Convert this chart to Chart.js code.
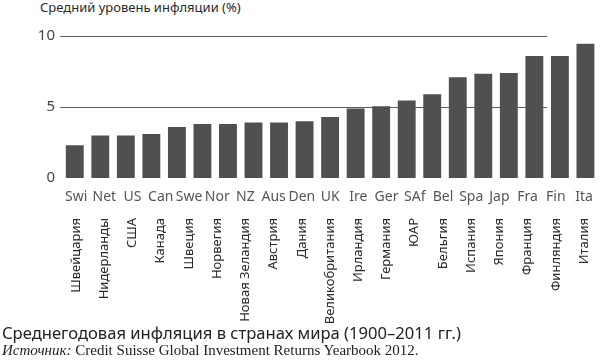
<!DOCTYPE html>
<html>
<head>
<meta charset="utf-8">
<script src="https://cdn.jsdelivr.net/npm/chart.js@4"></script>
<style>
    body { margin: 0; width: 610px; height: 364px; overflow: hidden; background: #fff; position: relative; }
    #wrap { position: absolute; left: 0; top: 0; width: 610px; height: 330px; }
    .ytitle { position: absolute; left: 40px; top: -2px; font: 13px "Noto Sans", sans-serif; color: #2a2a2a; }
    .caption { position: absolute; left: 2px; top: 321px; font: 16.6px "Noto Sans", sans-serif; color: #222; white-space: nowrap; }
    .source { position: absolute; left: 2px; top: 342px; font: 15px "Liberation Serif", serif; color: #222; white-space: nowrap; }
</style>
</head>
<body>
<div class="ytitle">Средний уровень инфляции (%)</div>
<div id="wrap"><canvas id="inflChart" width="610" height="330"></canvas></div>
<div class="caption">Среднегодовая инфляция в странах мира (1900–2011 гг.)</div>
<div class="source"><i>Источник:</i> Credit Suisse Global Investment Returns Yearbook 2012.</div>
<script>
// bars as they appear in the figure (21 of them)
const barKeys = ['1', '2', '3', '4', '5', '6', '7', '8', '9', '10', '11',
    '12', '13', '14', '15', '16', '17', '18', '19', '20', '21'];
const inflation = [2.3, 3.0, 3.0, 3.1, 3.6, 3.8, 3.8, 3.9, 3.9, 4.0, 4.3,
    4.9, 5.05, 5.45, 5.9, 7.1, 7.35, 7.4, 8.6, 8.6, 9.45];

// label rows under the chart (19 countries)
const shortLabels = ['Swi', 'Net', 'US', 'Can', 'Swe', 'Nor', 'NZ', 'Aus', 'Den', 'UK',
    'Ire', 'Ger', 'SAf', 'Bel', 'Spa', 'Jap', 'Fra', 'Fin', 'Ita'];
const ruLabels = ['Швейцария', 'Нидерланды', 'США', 'Канада', 'Швеция', 'Норвегия',
    'Новая Зеландия', 'Австрия', 'Дания', 'Великобритания', 'Ирландия', 'Германия',
    'ЮАР', 'Бельгия', 'Испания', 'Япония', 'Франция', 'Финляндия', 'Италия'];

const yTicks = [0, 5, 10];
const gridLevels = [5, 10];
const gridEndBar = 18; // reference lines stop after this bar

// horizontal reference lines that do not run the full width
const partialGrid = {
    id: 'partialGrid',
    beforeDatasetsDraw(chart) {
        const { ctx, chartArea, scales } = chart;
        const x = scales.x, y = scales.y;
        const right = (x.getPixelForValue(gridEndBar) + x.getPixelForValue(gridEndBar + 1)) / 2;
        ctx.save();
        ctx.strokeStyle = '#5c5c5c';
        ctx.lineWidth = 1.2;
        gridLevels.forEach(v => {
            const py = Math.round(y.getPixelForValue(v)) + 0.5;
            ctx.beginPath();
            ctx.moveTo(chartArea.left - 2, py);
            ctx.lineTo(right, py);
            ctx.stroke();
        });
        ctx.restore();
    }
};

const ctx = document.getElementById('inflChart').getContext('2d');
new Chart(ctx, {
    type: 'bar',
    data: {
        labels: barKeys,
        datasets: [{
            data: inflation,
            backgroundColor: '#505050',
            borderWidth: 0,
            categoryPercentage: 1,
            barPercentage: 0.7
        }]
    },
    options: {
        responsive: false,
        animation: false,
        layout: { padding: { top: 36, right: 2, left: 0, bottom: 0 } },
        plugins: {
            legend: { display: false },
            tooltip: { enabled: false }
        },
        scales: {
            x: {
                display: false,
                weight: 0
            },
            xEn: {
                type: 'category',
                axis: 'x',
                position: 'bottom',
                labels: shortLabels,
                offset: true,
                weight: 1,
                grid: { display: false, drawTicks: false },
                border: { display: false },
                ticks: {
                    autoSkip: false,
                    maxRotation: 0,
                    padding: 11,
                    color: '#555',
                    font: { family: 'Noto Sans', size: 14 }
                },
                afterFit: scale => { scale.height = 30; }
            },
            xRu: {
                type: 'category',
                axis: 'x',
                position: 'bottom',
                labels: ruLabels,
                offset: true,
                weight: 2,
                grid: { display: false, drawTicks: false },
                border: { display: false },
                ticks: {
                    autoSkip: false,
                    minRotation: 90,
                    maxRotation: 90,
                    padding: 10,
                    color: '#2a2a2a',
                    font: { family: 'Noto Sans', size: 13 }
                },
                afterFit: scale => { scale.height = 122; }
            },
            y: {
                min: 0,
                max: 10,
                grid: { display: false, drawTicks: false },
                border: { display: false },
                afterBuildTicks: scale => {
                    scale.ticks = yTicks.map(v => ({ value: v }));
                },
                ticks: {
                    padding: 7,
                    color: '#444',
                    font: { family: 'Noto Sans', size: 15 }
                },
                afterFit: scale => { scale.width = 62; }
            }
        }
    },
    plugins: [partialGrid]
});
</script>
</body>
</html>
